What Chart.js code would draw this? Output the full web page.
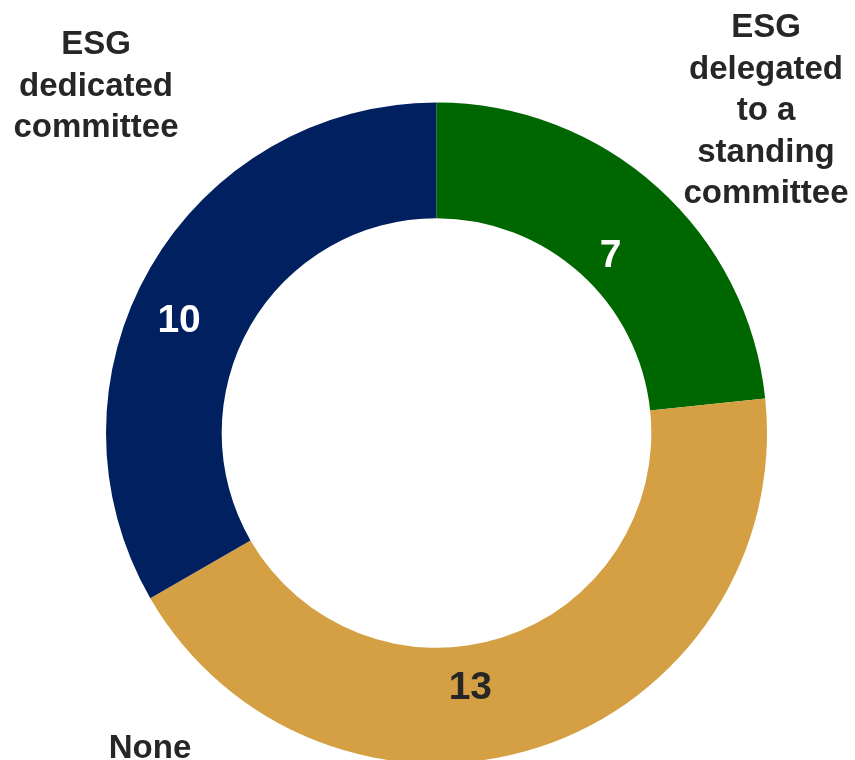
<!DOCTYPE html>
<html>
<head>
<meta charset="utf-8">
<script src="https://cdn.jsdelivr.net/npm/chart.js@4"></script>
<style>
  html, body { margin: 0; padding: 0; background: #fff; overflow: hidden; }
  #wrap { width: 855px; height: 790px; }
</style>
</head>
<body>
<div id="wrap"><canvas id="committeeChart" width="855" height="790"></canvas></div>
<script>
const categories = ['ESG delegated to a standing committee', 'None', 'ESG dedicated committee'];
const counts = [7, 13, 10];
const sliceColors = ['#006600', '#D4A043', '#002060'];
const valueColors = ['#ffffff', '#262626', '#ffffff'];

// where each number sits inside its slice: [fraction along the arc, fraction from inner to outer edge]
const valueSpots = [[0.53, 0.29], [0.567, 0.37], [0.446, 0.57]];

// category captions, one line per entry
const captions = [
  { lines: ['ESG', 'delegated', 'to a', 'standing', 'committee'], x: 766, y: 37 },
  { lines: ['None'], x: 150, y: 758 },
  { lines: ['ESG', 'dedicated', 'committee'], x: 96, y: 54 }
];

const textPlugin = {
  id: 'sliceText',
  afterDatasetsDraw(chart) {
    const ctx = chart.ctx;
    const arcs = chart.getDatasetMeta(0).data;
    ctx.save();
    ctx.textAlign = 'center';

    ctx.font = 'bold 39px "Liberation Sans", Arial, sans-serif';
    ctx.textBaseline = 'middle';
    arcs.forEach((arc, i) => {
      const p = arc.getProps(['x', 'y', 'startAngle', 'endAngle', 'innerRadius', 'outerRadius'], true);
      const a = p.startAngle + valueSpots[i][0] * (p.endAngle - p.startAngle);
      const r = p.innerRadius + valueSpots[i][1] * (p.outerRadius - p.innerRadius);
      ctx.fillStyle = valueColors[i];
      ctx.fillText(String(counts[i]), p.x + r * Math.cos(a), p.y + r * Math.sin(a));
    });

    ctx.font = 'bold 33px "Liberation Sans", Arial, sans-serif';
    ctx.textBaseline = 'alphabetic';
    ctx.fillStyle = '#262626';
    captions.forEach(c => {
      c.lines.forEach((line, k) => ctx.fillText(line, c.x, c.y + k * 41.5));
    });
    ctx.restore();
  }
};

new Chart(document.getElementById('committeeChart'), {
  type: 'doughnut',
  data: {
    labels: categories,
    datasets: [{
      data: counts,
      backgroundColor: sliceColors,
      borderWidth: 0,
      hoverOffset: 0
    }]
  },
  options: {
    responsive: false,
    animation: false,
    cutout: '65%',
    layout: { padding: { top: 102.5, left: 106, right: 88, bottom: 26.5 } },
    plugins: {
      legend: { display: false },
      tooltip: { enabled: false }
    }
  },
  plugins: [textPlugin]
});
</script>
</body>
</html>
